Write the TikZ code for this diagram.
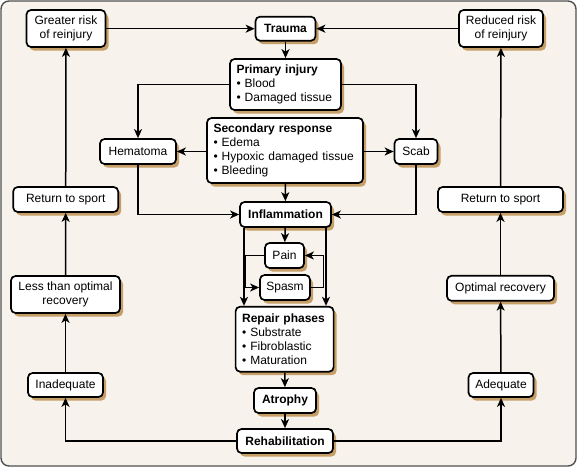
\documentclass[tikz,border=0pt]{standalone}
\usepackage{fontspec}
\setmainfont{Liberation Sans}
\usetikzlibrary{arrows.meta,shadows}
\definecolor{bgc}{HTML}{F7F2EB}
\definecolor{shc}{HTML}{C69E68}
\definecolor{frc}{HTML}{505050}
\tikzset{
  box/.style={draw=black, line width=1.7pt, rounded corners=4.5pt, fill=white,
    inner sep=0pt, align=center, font=\fontsize{12}{13.8}\selectfont,
    general shadow={fill=shc, shadow xshift=3pt, shadow yshift=-3.5pt}},
  bbox/.style={box, font=\fontsize{12}{13.8}\selectfont\bfseries},
  lbox/.style={box, align=left, inner xsep=6.5pt},
  arr/.style={line width=1.5pt, -{Stealth[length=9pt,width=8pt,inset=2.5pt]}},
}
\begin{document}
\begin{tikzpicture}[x=1pt,y=-1pt]
\useasboundingbox (0,0) rectangle (577,467);
\draw[frc, fill=bgc, line width=1.4pt, rounded corners=8pt] (1,1) rectangle (576,466);

% top row
\node[box, minimum width=79pt, minimum height=37pt] (gr) at (66,28.5) {Greater risk\\of reinjury};
\node[bbox, minimum width=60pt, minimum height=24pt] (tr) at (285.5,28.7) {Trauma};
\node[box, minimum width=84pt, minimum height=37pt] (rr) at (501,28.5) {Reduced risk\\of reinjury};

% centre column
\node[lbox, text width=98pt, minimum height=51pt] (pi) at (285.5,84.5)
  {\textbf{Primary injury}\\• Blood\\• Damaged tissue};
\node[lbox, text width=143pt, minimum height=65pt] (sr) at (285,150.5)
  {\textbf{Secondary response}\\• Edema\\• Hypoxic damaged tissue\\• Bleeding};
\node[box, minimum width=76pt, minimum height=25pt] (he) at (138,151.5) {Hematoma};
\node[box, minimum width=43pt, minimum height=25pt] (sc) at (416,151.5) {Scab};
\node[bbox, minimum width=91pt, minimum height=25pt] (in) at (285.5,214.5) {Inflammation};
\node[box, minimum width=39pt, minimum height=25pt] (pa) at (284.5,255.5) {Pain};
\node[box, minimum width=50pt, minimum height=25pt] (sp) at (285,287.5) {Spasm};
\node[lbox, text width=85pt, minimum height=65pt] (rp) at (284.6,339.2)
  {\textbf{Repair phases}\\• Substrate\\• Fibroblastic\\• Maturation};
\node[bbox, minimum width=62pt, minimum height=25pt] (at) at (285,400.5) {Atrophy};
\node[bbox, minimum width=96pt, minimum height=24pt] (rh) at (285,441) {Rehabilitation};

% left column
\node[box, minimum width=75pt, minimum height=24pt] (ia) at (65.5,385) {Inadequate};
\node[box, minimum width=109pt, minimum height=37pt] (lo) at (65.5,294.5) {Less than optimal\\recovery};
\node[box, minimum width=105pt, minimum height=25pt] (rsl) at (65.7,199.5) {Return to sport};

% right column
\node[box, minimum width=65pt, minimum height=24pt] (ad) at (501,385) {Adequate};
\node[box, minimum width=107pt, minimum height=25pt] (or) at (500.5,288.3) {Optimal recovery};
\node[box, minimum width=125pt, minimum height=25pt] (rsr) at (500.5,199.5) {Return to sport};

% connectors
\draw[arr] (gr.east |- tr) -- (tr.west);
\draw[arr] (rr.west |- tr) -- (tr.east);
\draw[arr] (tr) -- (pi);
\draw[arr] (pi.west) -| (he.north);
\draw[arr] (pi.east) -| (sc.north);
\draw[arr] (sr.west |- he) -- (he.east);
\draw[arr] (sr.east |- sc) -- (sc.west);
\draw[arr] (sr) -- (in);
\draw[arr] (he.south) |- (in.west);
\draw[arr] (sc.south) |- (in.east);
\draw[arr] (in) -- (pa);
\coordinate (inl) at ([xshift=-41.5pt]in.south);
\coordinate (inr) at ([xshift=40.5pt]in.south);
\draw[arr] (inl) -- (inl |- rp.north);
\draw[arr] (inr) -- (inr |- rp.north);
\draw[arr, line width=1.2pt] (pa.west) -- ++(-18.5,0) |- (sp.west);
\draw[arr, line width=1.2pt] (sp.east) -- ++(12.5,0) |- (pa.east);
\draw[arr] (rp) -- (at);
\draw[arr] (at) -- (rh);
\draw[arr] (rh.west) -| (ia.south);
\draw[arr] (rh.east) -| (ad.south);
\draw[arr] (ia) -- (lo);
\draw[arr] (lo) -- (rsl);
\draw[arr] (rsl) -- (gr);
\draw[arr] (ad) -- (or);
\draw[arr] (or) -- (rsr);
\draw[arr] (rsr) -- (rr);
\end{tikzpicture}
\end{document}
